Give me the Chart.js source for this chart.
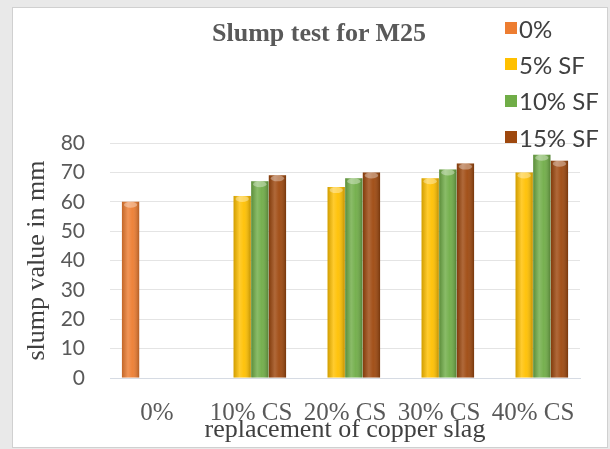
<!DOCTYPE html>
<html lang="en">
<head>
  <meta charset="UTF-8">
  <title>Slump test for M25</title>
  <script src="https://cdn.jsdelivr.net/npm/chart.js"></script>
  <style>
    body {
      margin: 0;
      padding: 0;
      background-color: #e9e9e9;
    }
    .wrap {
      position: relative;
      width: 610px;
      height: 449px;
      overflow: hidden;
    }
    .box {
      position: absolute;
      left: 12px;
      top: 7px;
      width: 594px;
      height: 439px;
      background: #fff;
      border: 1px solid #d0d0d0;
    }
    canvas {
      position: absolute;
      left: 0;
      top: 0;
    }
    .chart-title {
      position: absolute;
      left: 189px;
      top: 17px;
      width: 260px;
      text-align: center;
      font-family: "Liberation Serif", "Times New Roman", serif;
      font-weight: bold;
      font-size: 26px;
      line-height: 32px;
      color: #595959;
    }
    .legend {
      position: absolute;
      left: 505px;
      top: 10px;
      font-family: Lato, "Open Sans", sans-serif;
      font-size: 24px;
      color: #404040;
    }
    .legend-item {
      display: flex;
      align-items: center;
      height: 36.3px;
    }
    .legend-item span.sw {
      display: inline-block;
      width: 12px;
      height: 12px;
      margin-right: 2px;
    }
  </style>
</head>
<body>
  <div class="wrap">
    <div class="box"></div>
    <canvas id="slump-chart" width="610" height="449"></canvas>
    <div class="chart-title">Slump test for M25</div>
    <div class="legend" id="legend"></div>
  </div>
  <script>
    const categories = ['0%', '10% CS', '20% CS', '30% CS', '40% CS'];
    const seriesNames = ['0%', '5% SF', '10% SF', '15% SF'];
    const seriesColors = ['#ED7D31', '#FFC000', '#70AD47', '#9E480E'];
    const plain = [60, null, null, null, null];
    const sf5 = [null, 62, 65, 68, 70];
    const sf10 = [null, 67, 68, 71, 76];
    const sf15 = [null, 69, 70, 73, 74];
    const yTicks = [0, 10, 20, 30, 40, 50, 60, 70, 80];

    const seriesValues = [plain, sf5, sf10, sf15];
    const serif = '"Liberation Serif", "Times New Roman", serif';

    // legend built from the series arrays
    const legend = document.getElementById('legend');
    seriesNames.forEach((name, i) => {
      const item = document.createElement('div');
      item.className = 'legend-item';
      item.innerHTML = `<span class="sw" style="background:${seriesColors[i]}"></span>${name}`;
      legend.appendChild(item);
    });

    // cylinder-ish shading over each bar
    const barShade = {
      id: 'barShade',
      afterDatasetsDraw(chart) {
        const ctx = chart.ctx;
        chart.data.datasets.forEach((ds, di) => {
          chart.getDatasetMeta(di).data.forEach((bar, i) => {
            if (ds.data[i] == null) return;
            const { x, y, base, width } = bar.getProps(['x', 'y', 'base', 'width'], true);
            const l = x - width / 2;
            const g = ctx.createLinearGradient(l, 0, l + width, 0);
            g.addColorStop(0, 'rgba(0,0,0,0.18)');
            g.addColorStop(0.35, 'rgba(255,255,255,0.18)');
            g.addColorStop(0.6, 'rgba(255,255,255,0.05)');
            g.addColorStop(1, 'rgba(0,0,0,0.25)');
            ctx.save();
            ctx.fillStyle = g;
            ctx.fillRect(l, y, width, base - y);
            ctx.fillStyle = 'rgba(255,255,255,0.35)';
            ctx.beginPath();
            ctx.ellipse(x, y + 3, width / 2 - 2, 3, 0, 0, Math.PI * 2);
            ctx.fill();
            ctx.restore();
          });
        });
      }
    };

    new Chart(document.getElementById('slump-chart'), {
      type: 'bar',
      data: {
        labels: categories,
        datasets: seriesNames.map((name, i) => ({
          label: name,
          data: seriesValues[i],
          backgroundColor: seriesColors[i],
          borderWidth: 0,
          barPercentage: 0.98,
          categoryPercentage: 0.75
        }))
      },
      options: {
        responsive: false,
        animation: false,
        devicePixelRatio: 1,
        layout: { padding: { left: 0, top: 143, right: 30, bottom: 0 } },
        plugins: {
          legend: { display: false },
          title: { display: false },
          tooltip: { enabled: false }
        },
        scales: {
          x: {
            grid: { display: false },
            border: { color: '#d6dbe3', width: 1 },
            ticks: {
              color: '#595959',
              font: { family: serif, size: 25 },
              padding: 12,
              maxRotation: 0,
              autoSkip: false
            },
            title: {
              display: true,
              text: 'replacement of copper slag',
              color: '#404040',
              font: { family: serif, size: 26 },
              padding: { top: 0, bottom: 3 }
            },
            afterFit(scale) { scale.height = 71; }
          },
          y: {
            min: 0,
            max: 80,
            afterBuildTicks(scale) { scale.ticks = yTicks.map(v => ({ value: v })); },
            grid: { color: '#e4e4e4', drawTicks: false },
            border: { display: false },
            ticks: {
              color: '#595959',
              font: { family: 'Lato, "Open Sans", sans-serif', size: 21 },
              padding: 25
            },
            title: {
              display: true,
              text: 'slump value in mm',
              color: '#404040',
              font: { family: serif, size: 26 },
              padding: { top: 22, bottom: 0 }
            },
            afterFit(scale) { scale.width = 110; }
          }
        }
      },
      plugins: [barShade]
    });
  </script>
</body>
</html>
